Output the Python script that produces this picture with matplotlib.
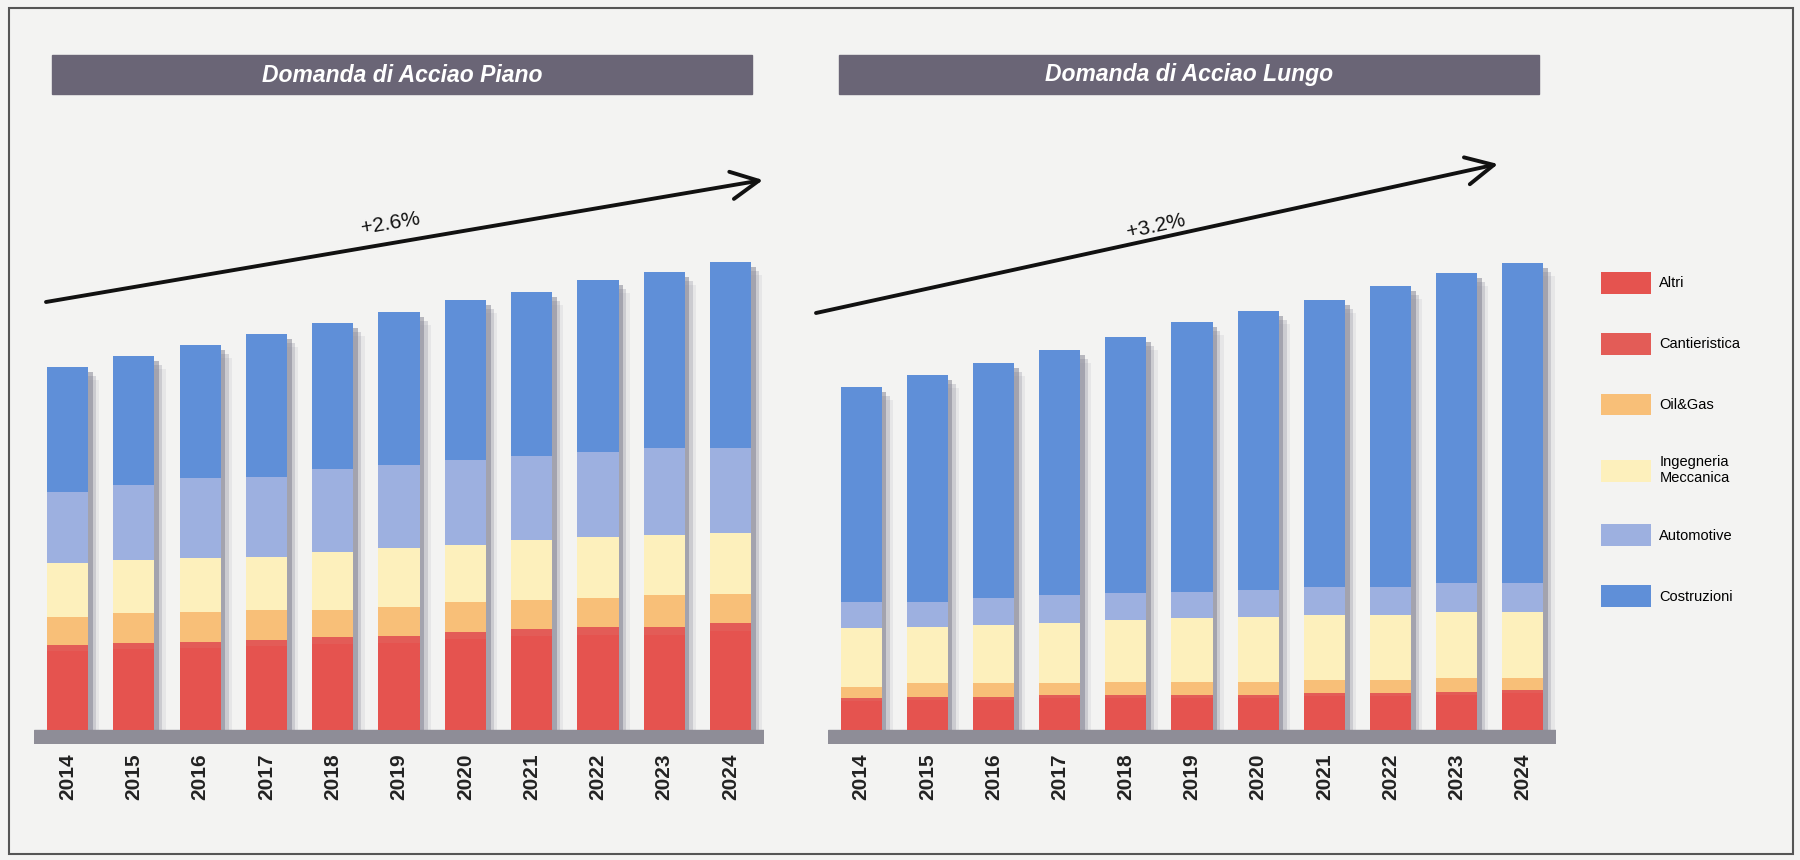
import matplotlib
matplotlib.use('Agg')
import matplotlib.pyplot as plt
from matplotlib.patches import Rectangle
import numpy as np

plt.rcParams['font.family'] = ['Liberation Sans', 'DejaVu Sans']

years = ['2014', '2015', '2016', '2017', '2018', '2019', '2020', '2021', '2022', '2023', '2024']
sectors = ['Altri', 'Cantieristica', 'Oil&Gas', 'Ingegneria\nMeccanica', 'Automotive', 'Costruzioni']
colors = ['#e5534f', '#e35c57', '#f8bf78', '#fdf0bc', '#9db0e0', '#5f8fd8']

# Acciaio piano (no axis in the original)
altri_p = [79, 81, 82, 84, 86, 87, 91, 94, 95, 95, 99]
cant_p = [6, 6, 6, 6, 7, 7, 7, 7, 8, 8, 8]
oil_p = [28, 30, 30, 30, 27, 29, 30, 29, 29, 32, 29]
ing_p = [54, 53, 54, 53, 58, 59, 57, 60, 61, 60, 61]
auto_p = [71, 75, 80, 80, 83, 83, 85, 84, 85, 87, 85]
costr_p = [125, 129, 133, 143, 146, 153, 160, 164, 172, 176, 186]

# Acciaio lungo
altri_l = [29, 30, 30, 32, 32, 32, 32, 34, 34, 35, 37]
cant_l = [3, 3, 3, 3, 3, 3, 3, 3, 3, 3, 3]
oil_l = [11, 14, 14, 12, 13, 13, 13, 13, 13, 14, 12]
ing_l = [59, 56, 58, 60, 62, 64, 65, 65, 65, 66, 66]
auto_l = [26, 25, 27, 28, 27, 26, 27, 28, 28, 29, 29]
costr_l = [215, 227, 235, 245, 256, 270, 279, 287, 301, 310, 320]

titles = ['Domanda di Acciao Piano', 'Domanda di Acciao Lungo']
cagr = ['+2.6%', '+3.2%']

W, H = 1800, 860
fig = plt.figure(figsize=(18, 8.6), dpi=100)
fig.patch.set_facecolor('#f3f3f2')


def stacked(ax, series):
    x = np.arange(len(years))
    total = np.sum(series, axis=0)
    # soft shadow to the right of each column
    ax.bar(x + 0.07, total - 5, width=0.62, color='#6e6e80', alpha=0.45, zorder=1)
    ax.bar(x + 0.12, total - 9, width=0.62, color='#7a7a8c', alpha=0.25, zorder=1)
    ax.bar(x + 0.17, total - 13, width=0.62, color='#8a8a99', alpha=0.12, zorder=1)
    bottom = np.zeros(len(years))
    handles = []
    for vals, c in zip(series, colors):
        b = ax.bar(x, vals, bottom=bottom, width=0.62, color=c, zorder=3)
        handles.append(b)
        bottom += np.array(vals)
    ax.axhspan(-14, 0, color='#8e8d97', zorder=2)
    ax.set_xlim(-0.5, len(years) - 0.5)
    ax.set_ylim(-14, 500)
    ax.set_xticks(x)
    ax.set_xticklabels(years, rotation=90, fontsize=15, fontweight='bold', color='#222222')
    ax.tick_params(axis='x', length=0, pad=7)
    ax.set_yticks([])
    for s in ax.spines.values():
        s.set_visible(False)
    ax.patch.set_alpha(0)
    return handles


ax1 = fig.add_axes([34.4 / W, 1 - 744 / H, 729.3 / W, 514 / H])
handles = stacked(ax1, [altri_p, cant_p, oil_p, ing_p, auto_p, costr_p])
ax2 = fig.add_axes([828 / W, 1 - 744 / H, 728 / W, 514 / H])
stacked(ax2, [altri_l, cant_l, oil_l, ing_l, auto_l, costr_l])

# overlay in pixel coordinates for the decorations
ov = fig.add_axes([0, 0, 1, 1])
ov.set_xlim(0, W)
ov.set_ylim(H, 0)
ov.axis('off')
ov.patch.set_alpha(0)

for (x0, x1), t in zip([(52, 752), (839, 1539)], titles):
    ov.add_patch(Rectangle((x0, 55), x1 - x0, 39, color='#6a6576'))
    ov.text((x0 + x1) / 2, 75, t, color='white', fontsize=16.5, fontweight='bold',
            fontstyle='italic', ha='center', va='center',
            family=['Liberation Sans Narrow', 'Liberation Sans', 'DejaVu Sans'])

arrows = [((46, 302), (763, 180), (390, 224), 9.7), ((816, 313), (1498, 164), (1156, 226), 12.3)]
for (p0, p1, lp, rot), lab in zip(arrows, cagr):
    ov.annotate('', xy=p1, xytext=p0,
                arrowprops=dict(arrowstyle='->,head_length=0.9,head_width=0.45',
                                lw=2.8, color='#111111', mutation_scale=22,
                                shrinkA=0, shrinkB=0))
    ov.text(lp[0], lp[1], lab, fontsize=15, rotation=rot, ha='center', va='center',
            color='#111111', rotation_mode='anchor')

ov.add_patch(Rectangle((9, 8), 1784, 846, fill=False, ec='#555555', lw=1.5))

fig.legend([h[0] for h in handles], sectors, loc='upper left',
           bbox_to_anchor=(1601 / W, 1 - 272 / H), frameon=False, fontsize=10.5,
           handlelength=3.4, handleheight=1.9, labelspacing=2.7,
           handletextpad=0.6, borderpad=0, borderaxespad=0)

fig.savefig('out.png', dpi=100, facecolor=fig.get_facecolor())
